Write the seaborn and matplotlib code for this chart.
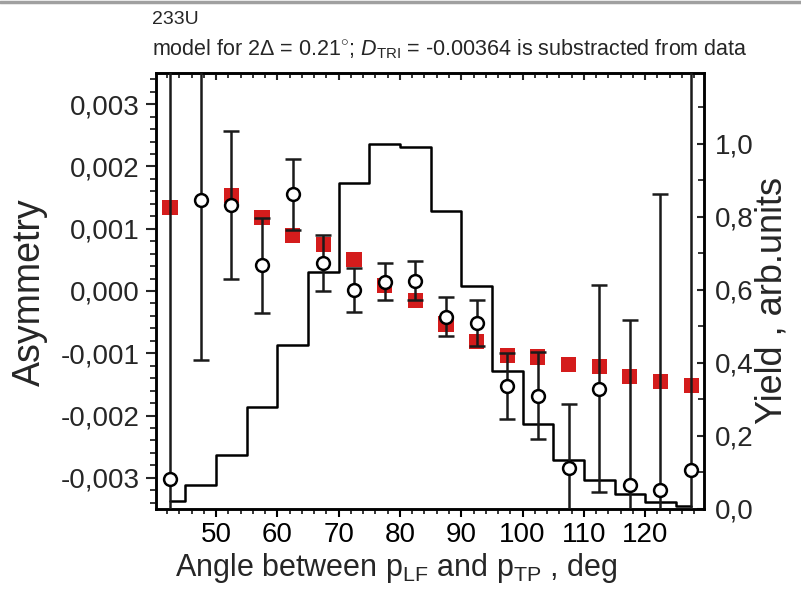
import numpy as np
import matplotlib
matplotlib.use("Agg")
import matplotlib.pyplot as plt
from matplotlib.ticker import MultipleLocator, FuncFormatter
from matplotlib.lines import Line2D
import seaborn as sns

# Angle bins (bin centres, deg)
angle = [42.5, 47.5, 52.5, 57.5, 62.5, 67.5, 72.5, 77.5, 82.5,
         87.5, 92.5, 97.5, 102.5, 107.5, 112.5, 117.5, 122.5, 127.5]
# Measured asymmetry and its uncertainty
asym = [-0.00302, 0.00146, 0.00138, 0.00041, 0.00155, 0.00045, 0.00002, 0.00015, 0.000165,
        -0.00041, -0.00052, -0.00152, -0.00168, -0.00284, -0.00157, -0.00312, -0.00319, -0.00288]
asym_err = [0.0075, 0.00256, 0.00119, 0.00076, 0.00057, 0.00045, 0.00035, 0.00030, 0.00031,
            0.00031, 0.00037, 0.00053, 0.00070, 0.00102, 0.00166, 0.00266, 0.00475, 0.0075]
# Model asymmetry
model = [0.00134, np.nan, 0.00153, 0.00118, 0.00089, 0.00075, 0.00050, 0.00009, -0.000155,
         -0.00053, -0.00081, -0.00104, -0.00106, -0.00118, -0.00121, -0.00137, -0.00145, -0.00152]
# Yield distribution (arb. units)
yield_ = [0.023, 0.066, 0.148, 0.278, 0.448, 0.649, 0.893, 1.000, 0.991,
          0.816, 0.610, 0.378, 0.233, 0.135, 0.078, 0.042, 0.019, 0.007]

x_ticks = [50, 60, 70, 80, 90, 100, 110, 120]
left_ticks = [-0.003, -0.002, -0.001, 0.0, 0.001, 0.002, 0.003]
right_ticks = [0.0, 0.2, 0.4, 0.6, 0.8, 1.0]

sns.set_theme(style="ticks")
plt.rcParams["font.family"] = ["Liberation Sans", "DejaVu Sans"]
plt.rcParams["mathtext.fontset"] = "custom"
plt.rcParams["mathtext.rm"] = "Liberation Sans"
plt.rcParams["mathtext.it"] = "Liberation Sans:italic"

fig = plt.figure(figsize=(8.01, 5.98), dpi=100)
W, H = 801, 598
L, R, T, B = 156, 704, 73, 509
ax = fig.add_axes([L / W, 1 - B / H, (R - L) / W, (B - T) / H])
ax2 = ax.twinx()

# yield histogram on the right axis
sns.lineplot(x=angle, y=yield_, ax=ax2, color="black", lw=1.8,
             drawstyle="steps-mid", estimator=None, sort=False)

# model (red squares)
sns.scatterplot(x=angle, y=model, ax=ax, marker="s", s=120, color="#d41c1c",
                edgecolor="none", linewidth=0, zorder=2)
# data with error bars
ax.errorbar(angle, asym, yerr=asym_err, fmt="none", ecolor="#1a1a1a",
            elinewidth=1.8, capsize=5.5, capthick=1.8, zorder=3)
sns.scatterplot(x=angle, y=asym, ax=ax, marker="o", s=85, facecolor="white",
                edgecolor="black", linewidth=1.8, zorder=4)

ax.set_zorder(ax2.get_zorder() + 1)
ax.patch.set_visible(False)

ax.set_xlim(40.2, 129.6)
ax.set_ylim(-0.0035, 0.0035)
ax2.set_ylim(0, 1.193)

comma = lambda fmt: FuncFormatter(lambda v, p: (fmt % v).replace(".", ",").replace("-0,000", "0,000"))
ax.set_xticks(x_ticks)
ax.xaxis.set_minor_locator(MultipleLocator(2))
ax.set_yticks(left_ticks)
ax.yaxis.set_minor_locator(MultipleLocator(0.0002))
ax.yaxis.set_major_formatter(comma("%.3f"))
ax2.set_yticks(right_ticks)
ax2.yaxis.set_minor_locator(MultipleLocator(0.1))
ax2.yaxis.set_major_formatter(comma("%.1f"))

fs = 20
ax.tick_params(axis="x", which="major", direction="out", length=6, width=1.5,
               labelsize=fs, pad=3, top=False, colors="black")
ax.tick_params(axis="x", which="minor", direction="out", length=3.5, width=1.3, top=False)
ax.tick_params(axis="y", which="major", direction="out", length=7, width=1.5,
               labelsize=fs, pad=5, right=False)
ax.tick_params(axis="y", which="minor", direction="out", length=4, width=1.3, right=False)
ax2.tick_params(axis="y", which="major", direction="in", length=5, width=1.5,
                labelsize=fs, pad=8)
ax2.tick_params(axis="y", which="minor", direction="in", length=4, width=1.3)

# mirrored top axis with inward ticks
top = ax.secondary_xaxis("top")
top.set_xticks(x_ticks)
top.xaxis.set_minor_locator(MultipleLocator(2))
top.tick_params(axis="x", which="major", direction="in", length=5, width=1.5, labeltop=False)
top.tick_params(axis="x", which="minor", direction="in", length=3.5, width=1.3)
top.spines["top"].set_linewidth(1.8)

for a in (ax, ax2):
    for s in a.spines.values():
        s.set_linewidth(1.8)
        s.set_color("black")
        s.set_visible(True)

ax.set_xlabel(r"Angle between p$_{\mathrm{LF}}$ and p$_{\mathrm{TP}}$ , deg", fontsize=22)
ax.xaxis.set_label_coords((396 - L) / (R - L), (B - 568) / (B - T))
ax.xaxis.label.set_va("center")
ax.set_ylabel("Asymmetry", fontsize=27)
ax.yaxis.set_label_coords((30 - L) / (R - L), (B - 292) / (B - T))
ax.yaxis.label.set_va("center")
ax2.set_ylabel("Yield , arb.units", fontsize=26, rotation=90)
ax2.yaxis.set_label_coords((772 - L) / (R - L), (B - 300) / (B - T))
ax2.yaxis.label.set_va("center")

fig.text(152 / W, 1 - 20 / H, "233U", fontsize=14, va="center", ha="left")
fig.text(152 / W, 1 - 49 / H,
         r"model for 2Δ = 0.21$^{\circ}$; $D_{\mathrm{TRI}}$ = -0.00364 is substracted from data",
         fontsize=15.5, va="center", ha="left")

fig.add_artist(Line2D([0, 1], [0.997, 0.997], color="#a0a0a0", lw=2.5))

fig.savefig("out.png", dpi=100)
